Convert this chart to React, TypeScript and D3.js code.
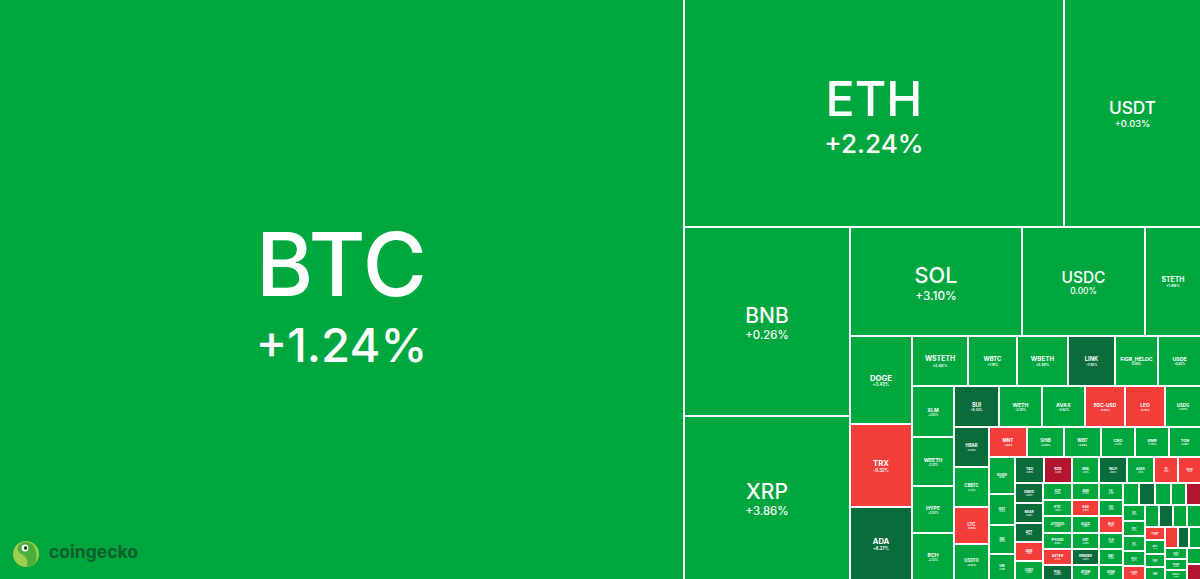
import React from 'react';
import * as d3 from 'd3';

const WIDTH = 1200;
const HEIGHT = 579;

type Row = [string, number, number];

// [symbol, market cap ($B), 24h change (%)]
const btcColumn: Row[] = [['BTC', 2250, 1.24]];
const ethRow: Row[] = [['ETH', 489.4, 2.24], ['USDT', 176.0, 0.03]];
const bnbColumn: Row[] = [['BNB', 177.2, 0.26], ['XRP', 152.8, 3.86]];
const solRow: Row[] = [['SOL', 106.5, 3.1], ['USDC', 76.17, 0.0], ['STETH', 34.68, 1.95]];
const dogeColumn: Row[] = [['DOGE', 30.64, 3.43], ['TRX', 29.23, -0.32], ['ADA', 25.71, 6.27]];
const wstethRow: Row[] = [
  ['WSTETH', 16.05, 2.4], ['WBTC', 13.78, 1.19], ['WBETH', 14.49, 2.35],
  ['LINK', 13.35, 7.58], ['FIGR_HELOC', 12.36, 0.0], ['USDE', 12.07, 0.02],
];
const xlmColumn: Row[] = [['XLM', 11.93, 3.82], ['WEETH', 11.82, 2.31], ['HYPE', 11.13, 4.24], ['BCH', 11.08, 3.13]];
const suiRow: Row[] = [
  ['SUI', 10.34, 6.43], ['WETH', 9.77, 2.29], ['AVAX', 9.77, 4.83],
  ['BSC-USD', 9.09, -0.06], ['LEO', 8.98, -0.41], ['USDG', 8.18, 0.01],
];
const hbarColumn: Row[] = [['HBAR', 8.06, 6.91], ['CBBTC', 7.95, 1.21], ['LTC', 7.26, -0.84], ['USDT0', 7.16, 0.02]];
const mntRow: Row[] = [
  ['MNT', 6.58, -1.22], ['SHIB', 6.5, 2.94], ['WBT', 6.41, 2.63],
  ['CRO', 5.89, 3.31], ['XMR', 5.81, 1.42], ['TON', 5.54, 2.08],
];
const susdeColumn: Row[] = [['SUSDE', 5.49, 0.05], ['DOT', 4.74, 3.57], ['DAI', 4.37, 0.01], ['UNI', 3.84, 3.2]];
const taoRow: Row[] = [
  ['TAO', 4.2, 5.84], ['BGB', 3.98, -5.42], ['ENA', 3.98, 3.91], ['WLFI', 3.98, 8.63],
  ['AAVE', 3.91, 4.12], ['PI', 3.48, -1.93], ['PEPE', 3.33, -0.72],
];
const tailCoins: Row[] = [
  ['ONDO', 3.18, 6.84], ['NEAR', 3.07, 5.62], ['APT', 3.01, 7.15], ['OKB', 2.95, -1.38],
  ['USD1', 2.9, 0.01], ['ICP', 2.84, 2.93], ['ETC', 2.78, 3.12], ['JITOSOL', 2.73, 3.05],
  ['PYUSD', 2.67, 0.02], ['ASTER', 2.62, -2.31], ['POL', 2.58, 5.87], ['ARB', 2.56, 3.74],
  ['KAS', 2.5, -0.92], ['ALGO', 2.45, 4.1], ['VET', 2.41, 2.66], ['RENDER', 2.37, 8.21],
  ['ATOM', 2.33, 2.48], ['FIL', 2.28, 3.39], ['SEI', 2.25, 4.56], ['WLD', 2.22, -1.75],
  ['FLR', 2.18, 1.92], ['QNT', 2.15, 2.2], ['BONK', 2.1, 4.83], ['JUP', 2.07, 3.61],
  ['TIA', 2.05, 6.35], ['IMX', 2.0, 4.02], ['INJ', 1.97, 3.48], ['STX', 1.93, -6.12],
  ['OP', 1.9, 3.97], ['FET', 1.86, 4.44], ['GT', 1.83, 1.15], ['KCS', 1.8, 0.87],
  ['CAKE', 1.76, -2.64], ['TRUMP', 1.73, 2.75], ['PENGU', 1.7, 5.31], ['XDC', 1.67, 1.68],
  ['FDUSD', 1.64, 0.03], ['PUMP', 1.6, -3.42], ['SKY', 1.58, 2.14], ['CRV', 1.55, 4.71],
  ['LDO', 1.51, 3.26], ['SPX', 1.48, -0.55], ['VIRTUAL', 1.44, 6.02], ['NEXO', 1.41, 1.49],
  ['GRT', 1.36, 3.83], ['PAXG', 1.32, 0.41], ['XAUT', 1.28, 0.38], ['RETH', 1.25, 2.19],
  ['FARTCOIN', 1.22, -7.4],
];

const bands: Row[][] = [
  btcColumn, ethRow, bnbColumn, solRow, dogeColumn, wstethRow,
  xlmColumn, suiRow, hbarColumn, mntRow, susdeColumn, taoRow,
];

const colorThresholds = [-5, 0, 5];
const colorRange = ['#b3152e', '#f23d3a', '#00a63e', '#0a6c3a'];

type Leaf = { name: string; cap: number; change: number };
type Group = { tile: string; children: (Leaf | Group)[] };

const toLeaf = ([name, cap, change]: Row): Leaf => ({ name, cap, change });

function buildTree(): Group {
  let node: Group = { tile: 'squarify', children: tailCoins.map(toLeaf) };
  for (let i = bands.length - 1; i >= 0; i--) {
    const even = i % 2 === 0;
    node = {
      tile: even ? 'dice' : 'slice',
      children: [{ tile: even ? 'slice' : 'dice', children: bands[i].map(toLeaf) }, node],
    };
  }
  return node;
}

const fmtChange = (v: number) => (v > 0 ? '+' : '') + v.toFixed(2) + '%';

export default function App() {
  const color = d3.scaleThreshold<number, string>().domain(colorThresholds).range(colorRange);
  const root = d3.hierarchy<any>(buildTree()).sum((d: any) => (d.children ? 0 : d.cap));
  d3
    .treemap<any>()
    .size([WIDTH, HEIGHT])
    .paddingInner(2)
    .round(true)
    .tile((node: any, x0: number, y0: number, x1: number, y1: number) => {
      const t = node.data.tile;
      if (t === 'dice') d3.treemapDice(node, x0, y0, x1, y1);
      else if (t === 'slice') d3.treemapSlice(node, x0, y0, x1, y1);
      else d3.treemapSquarify(node, x0, y0, x1, y1);
    })(root);

  const leaves = root.leaves() as any[];

  return (
    <svg
      width={WIDTH}
      height={HEIGHT}
      style={{ position: 'absolute', left: 0, top: 0, display: 'block' }}
      fontFamily="Inter, 'Noto Sans', sans-serif"
    >
      <rect x={0} y={0} width={WIDTH} height={HEIGHT} fill="#ffffff" />
      {leaves.map((d) => {
        const w = d.x1 - d.x0;
        const h = d.y1 - d.y0;
        const cx = (d.x0 + d.x1) / 2;
        const cy = (d.y0 + d.y1) / 2;
        const f = Math.min(0.128 * w, 0.3 * h);
        const weight = f < 14 ? 700 : 500;
        return (
          <g key={d.data.name}>
            <rect x={d.x0} y={d.y0} width={w} height={h} fill={color(d.data.change)} />
            {f >= 2 && (
              <>
                <text x={cx} y={cy + 0.07 * f} textAnchor="middle" fill="#fff" fontSize={f} fontWeight={weight}>
                  {d.data.name}
                </text>
                <text x={cx} y={cy + 0.83 * f} textAnchor="middle" fill="#fff" fontSize={f * 0.54} fontWeight={weight}>
                  {fmtChange(d.data.change)}
                </text>
              </>
            )}
          </g>
        );
      })}
      <g>
        <circle cx={26} cy={554} r={13} fill="#9bcf4f" />
        <path
          d="M18 546 Q25 538 33 545 Q38 551 36 561 Q32 567 27 567 Q29 558 23 555 Q16 552 18 546 Z"
          fill="#4caf3c"
        />
        <circle cx={25} cy={548} r={3.4} fill="#ffffff" />
        <circle cx={25.6} cy={548} r={1.7} fill="#163d16" />
        <text x={49} y={558} fontSize={17.5} fontWeight={700} fill="#0e5e2c">
          coingecko
        </text>
      </g>
    </svg>
  );
}
